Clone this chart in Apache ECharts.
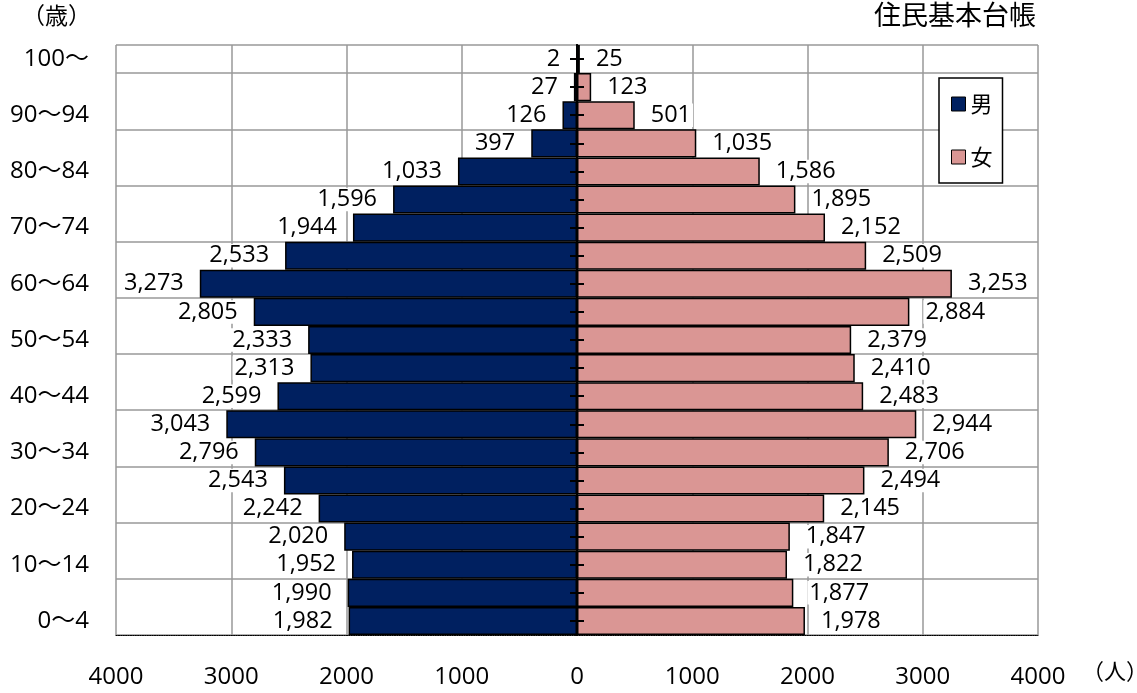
<!DOCTYPE html>
<html>
<head>
<meta charset="utf-8">
<script src="https://cdn.jsdelivr.net/npm/echarts@6/dist/echarts.min.js"></script>
<style>
html,body{margin:0;padding:0;background:#fff;}
#c{width:1137px;height:693px;}
</style>
</head>
<body>
<div id="c"></div>
<script>
const ageGroups = ["0〜4","5〜9","10〜14","15〜19","20〜24","25〜29","30〜34","35〜39","40〜44","45〜49","50〜54","55〜59","60〜64","65〜69","70〜74","75〜79","80〜84","85〜89","90〜94","95〜99","100〜"];
const maleValues = [1982,1990,1952,2020,2242,2543,2796,3043,2599,2313,2333,2805,3273,2533,1944,1596,1033,397,126,27,2];
const femaleValues = [1978,1877,1822,1847,2145,2494,2706,2944,2483,2410,2379,2884,3253,2509,2152,1895,1586,1035,501,123,25];
const xTicks = [-4000,-3000,-2000,-1000,0,1000,2000,3000,4000];

const NUM_FONT = '"Open Sans","Noto Sans CJK JP",sans-serif';
const JP_FONT = '"Noto Sans CJK JP",sans-serif';
const fmt = v => Math.abs(v).toLocaleString('en-US');

const chart = echarts.init(document.getElementById('c'), null, {renderer:'canvas'});
const option = {
  animation:false,
  backgroundColor:'#fff',
  grid:{left:116,right:99,top:45,bottom:58,containLabel:false},
  legend:{
    orient:'vertical', left:939, top:78,
    padding:[15,10,15,12],
    itemWidth:14, itemHeight:14, itemGap:31,
    backgroundColor:'#fff', borderColor:'#000', borderWidth:1.5, borderRadius:0,
    textStyle:{fontFamily:JP_FONT, fontSize:22, color:'#000', padding:[0,0,0,0]},
    data:[
      {name:'男', icon:'rect', itemStyle:{color:'#002060', borderColor:'#000', borderWidth:1}},
      {name:'女', icon:'rect', itemStyle:{color:'#DA9694', borderColor:'#000', borderWidth:1}}
    ]
  },
  xAxis:{
    type:'value', min:xTicks[0], max:xTicks[xTicks.length-1], interval:1000,
    axisLine:{show:true, onZero:false, lineStyle:{color:'#000', width:1.2, type:'dotted'}},
    axisTick:{show:false},
    splitLine:{show:true, lineStyle:{color:'#999', width:1.5}},
    axisLabel:{margin:30, fontFamily:NUM_FONT, fontSize:24, color:'#000', formatter:v=>String(Math.abs(v))}
  },
  yAxis:[
    {
      type:'category', data:ageGroups, position:'left',
      axisLine:{show:false, onZero:false},
      axisTick:{show:false},
      splitLine:{show:true, lineStyle:{color:'#999', width:1.5}},
      axisLabel:{interval:1, margin:27, fontFamily:NUM_FONT, fontSize:24, color:'#000'}
    },
    {
      type:'category', data:ageGroups, position:'left',
      axisLine:{show:true, onZero:true, onZeroAxisIndex:0, lineStyle:{color:'#000', width:2}},
      axisTick:{show:true, alignWithLabel:true, inside:true, length:7, lineStyle:{color:'#000', width:2}},
      axisLabel:{show:false}, splitLine:{show:false}, z:5
    },
    {
      type:'category', data:ageGroups, position:'right',
      axisLine:{show:true, onZero:true, onZeroAxisIndex:0, lineStyle:{color:'#000', width:2}},
      axisTick:{show:true, alignWithLabel:true, inside:true, length:7, lineStyle:{color:'#000', width:2}},
      axisLabel:{show:false}, splitLine:{show:false}, z:5
    }
  ],
  series:[
    {
      name:'男', type:'bar', yAxisIndex:0,
      data:maleValues.map(v=>-v),
      barCategoryGap:0, barGap:'-100%',
      itemStyle:{color:'#002060', borderColor:'#000', borderWidth:1.5},
      label:{show:true, position:'left', distance:14, formatter:p=>fmt(p.value),
        fontFamily:NUM_FONT, fontSize:23.5, color:'#000', backgroundColor:'#fff', padding:[0,2,0,2]}
    },
    {
      name:'女', type:'bar', yAxisIndex:0,
      data:femaleValues,
      barCategoryGap:0, barGap:'-100%',
      itemStyle:{color:'#DA9694', borderColor:'#000', borderWidth:1.5},
      label:{show:true, position:'right', distance:14, formatter:p=>fmt(p.value),
        fontFamily:NUM_FONT, fontSize:23.5, color:'#000', backgroundColor:'#fff', padding:[0,2,0,2]}
    }
  ],
  graphic:[
    {type:'text', left:22, top:4, style:{text:'（歳）', font:'23px "Noto Sans CJK JP"', fill:'#000'}},
    {type:'text', right:101, top:1, style:{text:'住民基本台帳', font:'27px "Noto Sans CJK JP"', fill:'#000'}},
    {type:'text', left:1082, top:660, style:{text:'（人）', font:'22px "Noto Sans CJK JP"', fill:'#000'}}
  ]
};
chart.setOption(option);
</script>
</body>
</html>
